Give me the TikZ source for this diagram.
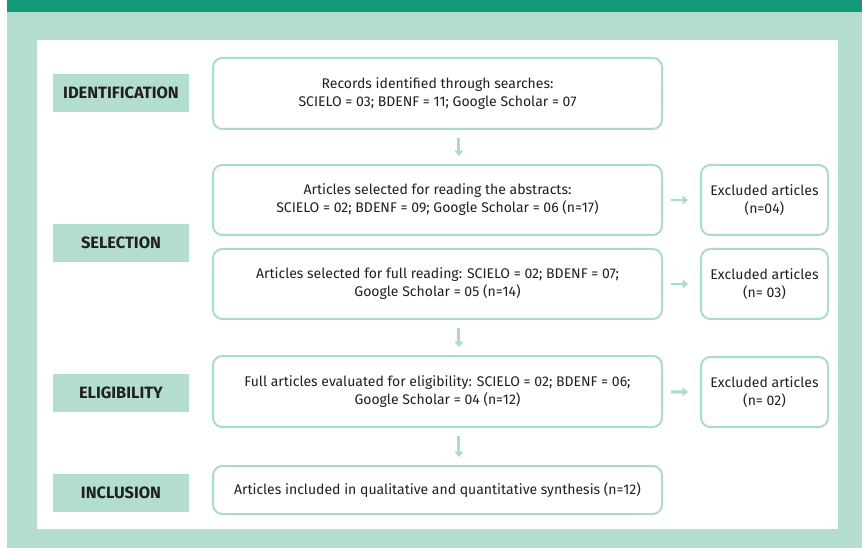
\documentclass[tikz,border=0pt]{standalone}
\usepackage{fontspec}
\setmainfont{Fira Sans}
\usepackage{tikz}
\usetikzlibrary{arrows.meta}
\definecolor{darkGreen}{HTML}{129A78}
\definecolor{paleGreen}{HTML}{B3DDD1}
\definecolor{lineGreen}{HTML}{ABDBCC}
\definecolor{textGrey}{HTML}{231F20}

\begin{document}
\begin{tikzpicture}[x=0.75pt, y=-0.75pt, font=\fontsize{10.5}{13.5}\selectfont, text=textGrey]
        \tikzset{
           stage/.style={
                        rectangle,
                        draw=none,
                        fill=paleGreen,
                        minimum width=102pt,
                        minimum height=28.5pt,
                        font=\fontsize{12.3}{14}\selectfont\bfseries
                       },
           record/.style={
                        rectangle,
                        rounded corners=7pt,
                        draw=lineGreen,
                        line width=1.5pt,
                        fill=white,
                        align=center,
                        minimum width=336.75pt
                       },
           excluded/.style={
                        rectangle,
                        rounded corners=7pt,
                        draw=lineGreen,
                        line width=1.5pt,
                        fill=white,
                        align=center,
                        minimum width=95.25pt,
                        minimum height=52.5pt
                       },
           flow/.style={
                        draw=lineGreen,
                        line width=2.2pt,
                        -{Triangle[length=4pt,width=6.5pt]}
                       },
                 };
    %--------------------
        \useasboundingbox (0,0) rectangle (862,548);
        \fill[paleGreen] (7,12) rectangle (862,548);
        \fill[darkGreen] (7,0) rectangle (862,12);
        \fill[white] (37,40) rectangle (838,529);
    %--------------------
        \node[stage]    (identification) at (121,93)    {IDENTIFICATION};
        \node[stage]    (selection)      at (121,243)   {SELECTION};
        \node[stage]    (eligibility)    at (121,393)   {ELIGIBILITY};
        \node[stage]    (inclusion)      at (121,493)   {INCLUSION};

        \node[record, minimum height=53.25pt] (records)   at (437.5,93.5)
              {Records identified through searches:\\SCIELO = 03; BDENF = 11; Google Scholar = 07};
        \node[record, minimum height=52.5pt]  (abstracts) at (437.5,200)
              {Articles selected for reading the abstracts:\\SCIELO = 02; BDENF = 09; Google Scholar = 06 (n=17)};
        \node[record, minimum height=52.5pt]  (fullRead)  at (437.5,284)
              {Articles selected for full reading: SCIELO = 02; BDENF = 07;\\Google Scholar = 05 (n=14)};
        \node[record, minimum height=53.25pt] (eligible)  at (437.5,391.5)
              {Full articles evaluated for eligibility: SCIELO = 02; BDENF = 06;\\Google Scholar = 04 (n=12)};
        \node[record, minimum height=36pt]    (included)  at (437.5,490)
              {Articles included in qualitative and quantitative synthesis (n=12)};

        \node[excluded] (exclAbstracts)  at (764.5,200) {Excluded articles\\(n=04)};
        \node[excluded] (exclFullRead)   at (764.5,284) {Excluded articles\\(n= 03)};
        \node[excluded] (exclEligible)   at (764.5,392) {Excluded articles\\(n= 02)};
    %--------------------
        \draw[flow, shorten <=6pt, shorten >=6pt] ([xshift=16pt]records.south)  -- ([xshift=16pt]abstracts.north);
        \draw[flow, shorten <=6pt, shorten >=6pt] ([xshift=16pt]fullRead.south) -- ([xshift=16pt]eligible.north);
        \draw[flow, shorten <=6pt, shorten >=6pt] ([xshift=16pt]eligible.south) -- ([xshift=16pt]included.north);

        \draw[flow, shorten <=6pt, shorten >=9pt] (abstracts) -- (exclAbstracts);
        \draw[flow, shorten <=6pt, shorten >=9pt] (fullRead)  -- (exclFullRead);
        \draw[flow, shorten <=6pt, shorten >=9pt] (eligible)  -- (exclEligible);
    \end{tikzpicture}
\end{document}
